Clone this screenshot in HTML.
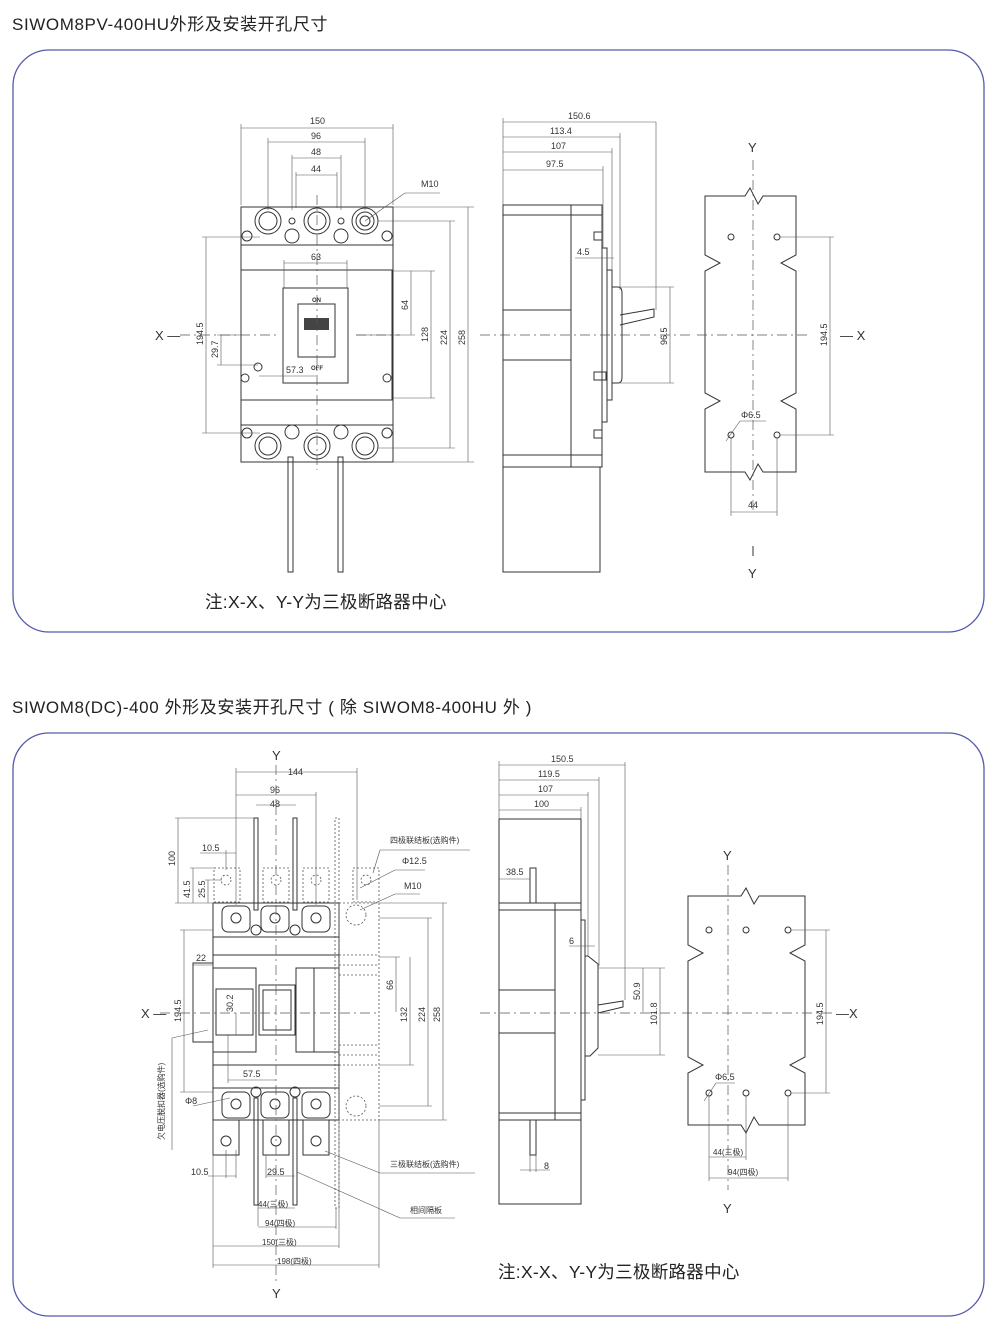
<!DOCTYPE html>
<html><head><meta charset="utf-8"><style>
body{margin:0;background:#fff}
svg{display:block}
text{font-family:"Liberation Sans","Noto Sans CJK SC",sans-serif;fill:#333}
.s{stroke:#333;stroke-width:1;fill:none}
.w{stroke:#333;stroke-width:1;fill:#fff}
.d{stroke:#555;stroke-width:.6;fill:none}
.c{stroke:#555;stroke-width:.7;fill:none;stroke-dasharray:10 4 2 4}
.k{stroke:#555;stroke-width:.8;fill:none;stroke-dasharray:2 2}
.t{font-size:9px}
.h{font-size:17px;fill:#222;letter-spacing:.6px}
.n{font-size:17.5px;fill:#222;letter-spacing:.3px}
</style></head><body>
<svg width="1000" height="1332" viewBox="0 0 1000 1332" xmlns="http://www.w3.org/2000/svg">
<text x="12" y="30" class="h">SIWOM8PV-400HU外形及安装开孔尺寸</text>
<rect x="13" y="50" width="971" height="582" rx="36" fill="none" stroke="#565aa8" stroke-width="1.3"/>
<text x="12" y="713" class="h">SIWOM8(DC)-400 外形及安装开孔尺寸 ( 除 SIWOM8-400HU 外 )</text>
<rect x="13" y="733" width="971" height="583" rx="36" fill="none" stroke="#565aa8" stroke-width="1.3"/>

<!-- ===== Panel 1 front ===== -->
<g>
<rect x="241" y="207" width="152" height="255" class="s"/>
<line x1="241" y1="245" x2="393" y2="245" class="s"/>
<line x1="241" y1="425" x2="393" y2="425" class="s"/>
<rect x="241" y="270" width="151" height="130" class="s"/>
<rect x="283" y="288" width="65" height="95" class="s"/>
<rect x="298" y="304" width="37" height="53" class="s"/>
<rect x="304" y="318" width="25" height="12" fill="#444"/>
<g class="s">
<circle cx="268" cy="221" r="13"/><circle cx="268" cy="221" r="9"/>
<circle cx="317" cy="221" r="13"/><circle cx="317" cy="221" r="9"/>
<circle cx="365" cy="221" r="13"/><circle cx="365" cy="221" r="9"/><circle cx="365" cy="221" r="5"/>
<circle cx="292" cy="221" r="3"/><circle cx="341" cy="221" r="3"/>
<circle cx="292" cy="236" r="7"/><circle cx="341" cy="236" r="7"/>
<circle cx="247" cy="236" r="5"/><circle cx="387" cy="236" r="5"/>
<circle cx="268" cy="446" r="13"/><circle cx="268" cy="446" r="9"/>
<circle cx="317" cy="446" r="13"/><circle cx="317" cy="446" r="9"/>
<circle cx="365" cy="446" r="13"/><circle cx="365" cy="446" r="9"/>
<circle cx="292" cy="432" r="7"/><circle cx="341" cy="432" r="7"/>
<circle cx="247" cy="433" r="5"/><circle cx="387" cy="433" r="5"/>
<circle cx="245" cy="378" r="4"/><circle cx="387" cy="378" r="4"/>
<circle cx="258" cy="367" r="4"/>
<rect x="288" y="457" width="5" height="115"/><rect x="338" y="457" width="5" height="115"/>
</g>
<text x="312" y="302" class="t" style="font-size:6px;font-weight:bold">ON</text>
<text x="311" y="370" class="t" style="font-size:6px;font-weight:bold">OFF</text>
<line x1="317" y1="195" x2="317" y2="470" class="c"/>
<line x1="180" y1="335" x2="280" y2="335" class="c"/>
<line x1="356" y1="335" x2="400" y2="335" class="c"/>
<text x="155" y="340" style="font-size:13px">X —</text>
<g class="d">
<line x1="241" y1="205" x2="241" y2="124"/><line x1="393" y1="205" x2="393" y2="124"/><line x1="241" y1="128" x2="393" y2="128"/>
<line x1="268" y1="210" x2="268" y2="138"/><line x1="365" y1="210" x2="365" y2="138"/><line x1="268" y1="142" x2="365" y2="142"/>
<line x1="292" y1="210" x2="292" y2="155"/><line x1="341" y1="210" x2="341" y2="155"/><line x1="292" y1="158" x2="341" y2="158"/>
<line x1="296" y1="175" x2="337" y2="175"/><line x1="296" y1="172" x2="296" y2="208"/><line x1="337" y1="172" x2="337" y2="208"/>
<line x1="393" y1="207" x2="474" y2="207"/><line x1="393" y1="462" x2="474" y2="462"/><line x1="468" y1="207" x2="468" y2="462"/>
<line x1="378" y1="221" x2="455" y2="221"/><line x1="378" y1="448" x2="455" y2="448"/><line x1="450" y1="221" x2="450" y2="448"/>
<line x1="393" y1="271" x2="435" y2="271"/><line x1="393" y1="398" x2="435" y2="398"/><line x1="431" y1="271" x2="431" y2="398"/>
<line x1="356" y1="335" x2="415" y2="335"/><line x1="411" y1="271" x2="411" y2="335"/>
<line x1="284" y1="263" x2="347" y2="263"/><line x1="284" y1="260" x2="284" y2="288"/><line x1="347" y1="260" x2="347" y2="288"/>
<line x1="202" y1="237" x2="260" y2="237"/><line x1="202" y1="433" x2="260" y2="433"/><line x1="206" y1="237" x2="206" y2="433"/>
<line x1="217" y1="335" x2="240" y2="335"/><line x1="217" y1="365" x2="258" y2="365"/><line x1="221" y1="335" x2="221" y2="365"/>
<line x1="259" y1="376" x2="316" y2="376"/>
<line x1="365" y1="221" x2="405" y2="193"/><line x1="405" y1="193" x2="440" y2="193"/>
</g>
<text x="310" y="124" class="t">150</text><text x="311" y="139" class="t">96</text><text x="311" y="155" class="t">48</text><text x="311" y="172" class="t">44</text>
<text x="421" y="187" class="t">M10</text><text x="311" y="260" class="t">63</text><text x="286" y="373" class="t">57.3</text>
<text transform="translate(465,345) rotate(-90)" class="t">258</text>
<text transform="translate(447,345) rotate(-90)" class="t">224</text>
<text transform="translate(428,342) rotate(-90)" class="t">128</text>
<text transform="translate(408,310) rotate(-90)" class="t">64</text>
<text transform="translate(203,345) rotate(-90)" class="t">194.5</text>
<text transform="translate(218,358) rotate(-90)" class="t">29.7</text>
</g>

<!-- Panel 1 side -->
<g>
<rect x="503" y="205" width="99" height="262" class="s"/>
<line x1="503" y1="215" x2="602" y2="215" class="s"/><line x1="503" y1="455" x2="602" y2="455" class="s"/>
<line x1="571" y1="205" x2="571" y2="467" class="s"/>
<line x1="503" y1="310" x2="571" y2="310" class="s"/><line x1="503" y1="360" x2="571" y2="360" class="s"/>
<rect x="503" y="467" width="97" height="105" class="s"/>
<path d="M602 248 h5 v174 h-5" class="s"/>
<rect x="607" y="270" width="5" height="130" class="s"/>
<path d="M612 287 h6 q4 0 4 6 v84 q0 6 -4 6 h-6" class="s"/>
<path d="M620 315 l34 -6 v8 l-34 8" class="s"/>
<rect x="594" y="232" width="8" height="8" class="s"/><rect x="594" y="372" width="12" height="8" class="s"/><rect x="594" y="430" width="8" height="8" class="s"/>
<line x1="480" y1="335" x2="690" y2="335" class="c"/>
<g class="d">
<line x1="503" y1="205" x2="503" y2="118"/>
<line x1="656" y1="122" x2="656" y2="310"/><line x1="503" y1="122" x2="656" y2="122"/>
<line x1="620" y1="133" x2="620" y2="290"/><line x1="503" y1="137" x2="620" y2="137"/>
<line x1="612" y1="148" x2="612" y2="270"/><line x1="503" y1="152" x2="612" y2="152"/>
<line x1="603" y1="166" x2="603" y2="248"/><line x1="503" y1="170" x2="603" y2="170"/>
<line x1="575" y1="258" x2="614" y2="258"/>
<line x1="620" y1="287" x2="674" y2="287"/><line x1="620" y1="383" x2="674" y2="383"/><line x1="670" y1="287" x2="670" y2="383"/>
</g>
<text x="568" y="119" class="t">150.6</text><text x="550" y="134" class="t">113.4</text><text x="551" y="149" class="t">107</text><text x="546" y="167" class="t">97.5</text>
<text x="577" y="255" class="t">4.5</text>
<text transform="translate(667,345) rotate(-90)" class="t">96.5</text>
</g>

<!-- Panel 1 mount -->
<g>
<path d="M705 196 H745 l5 -8 l8 16 l5 -8 H796 V255 l-15 8 l15 8 V393 l-15 8 l15 8 V472 H763 l-5 -8 l-8 16 l-5 -8 H705 V409 l15 -8 l-15 -8 V271 l15 -8 l-15 -8 Z" class="s"/>
<circle cx="731" cy="237" r="3" class="s"/><circle cx="777" cy="237" r="3" class="s"/>
<circle cx="731" cy="435" r="3" class="s"/><circle cx="777" cy="435" r="3" class="s"/>
<line x1="753" y1="160" x2="753" y2="510" class="c"/><line x1="697" y1="335" x2="810" y2="335" class="c"/>
<line x1="753" y1="546" x2="753" y2="556" class="s"/>
<text x="748" y="152" style="font-size:13px">Y</text><text x="748" y="578" style="font-size:13px">Y</text>
<text x="840" y="340" style="font-size:13px">— X</text>
<g class="d">
<line x1="780" y1="237" x2="834" y2="237"/><line x1="780" y1="435" x2="834" y2="435"/><line x1="830" y1="237" x2="830" y2="435"/>
<line x1="731" y1="438" x2="731" y2="516"/><line x1="777" y1="438" x2="777" y2="516"/><line x1="731" y1="512" x2="777" y2="512"/>
<line x1="726" y1="441" x2="740" y2="421"/><line x1="740" y1="421" x2="766" y2="421"/>
</g>
<text transform="translate(827,346) rotate(-90)" class="t">194.5</text>
<text x="748" y="508" class="t">44</text><text x="741" y="418" class="t">Φ6.5</text>
</g>
<text x="205" y="608" class="n">注:X-X、Y-Y为三极断路器中心</text>

<!-- ===== Panel 2 front ===== -->
<g>
<rect x="213" y="903" width="126" height="217" class="s"/>
<line x1="213" y1="937" x2="339" y2="937" class="s"/>
<line x1="213" y1="955" x2="339" y2="955" class="s"/>
<line x1="213" y1="1065" x2="339" y2="1065" class="s"/>
<line x1="213" y1="1088" x2="339" y2="1088" class="s"/>
<path d="M213 968 H256 V1052 H213" class="s"/>
<path d="M339 968 H296 V1052 H339" class="s"/><line x1="314" y1="968" x2="314" y2="1052" class="s"/>
<rect x="193" y="963" width="20" height="79" class="s"/>
<rect x="216" y="989" width="37" height="46" class="s"/>
<rect x="259" y="985" width="36" height="50" class="s"/><rect x="263" y="990" width="28" height="40" class="s"/>
<g class="s">
<rect x="222" y="906" width="28" height="26" rx="6"/><circle cx="236" cy="918" r="5"/>
<rect x="261" y="906" width="28" height="26" rx="6"/><circle cx="275" cy="918" r="5"/>
<rect x="302" y="906" width="28" height="26" rx="6"/><circle cx="316" cy="918" r="5"/>
<rect x="222" y="1092" width="28" height="26" rx="6"/><circle cx="236" cy="1104" r="5"/>
<rect x="261" y="1092" width="28" height="26" rx="6"/><circle cx="275" cy="1104" r="5"/>
<rect x="302" y="1092" width="28" height="26" rx="6"/><circle cx="316" cy="1104" r="5"/>
<circle cx="256" cy="930" r="5"/><circle cx="295" cy="930" r="5"/>
<circle cx="256" cy="1092" r="5"/><circle cx="295" cy="1092" r="5"/>
<path d="M213 1120 v35 h26 v-35"/><circle cx="226" cy="1141" r="5"/>
<path d="M263 1120 v35 h26 v-35"/><circle cx="276" cy="1141" r="5"/>
<path d="M303 1120 v35 h26 v-35"/><circle cx="316" cy="1141" r="5"/>
<rect x="254" y="818" width="4" height="92"/><rect x="293" y="818" width="4" height="92"/>
<rect x="254" y="1098" width="4" height="107"/><rect x="293" y="1098" width="4" height="107"/>
</g>
<g class="k">
<rect x="214" y="868" width="26" height="34"/><circle cx="226" cy="880" r="5"/>
<rect x="263" y="868" width="26" height="34"/><circle cx="276" cy="880" r="5"/>
<rect x="303" y="868" width="26" height="34"/><circle cx="316" cy="880" r="5"/>
<rect x="353" y="868" width="26" height="34"/><circle cx="366" cy="880" r="5"/>
<rect x="335" y="818" width="4" height="390"/>
<rect x="339" y="903" width="40" height="217"/>
<circle cx="356" cy="915" r="10"/><circle cx="356" cy="1106" r="10"/>
<line x1="339" y1="955" x2="379" y2="955"/><line x1="339" y1="965" x2="379" y2="965"/><line x1="339" y1="975" x2="379" y2="975"/>
<line x1="339" y1="1045" x2="379" y2="1045"/><line x1="339" y1="1055" x2="379" y2="1055"/><line x1="339" y1="1065" x2="379" y2="1065"/>
</g>
<line x1="276" y1="765" x2="276" y2="1285" class="c"/>
<line x1="160" y1="1013" x2="380" y2="1013" class="c"/>
<text x="141" y="1018" style="font-size:13px">X —</text>
<text x="272" y="760" style="font-size:13px">Y</text><text x="272" y="1298" style="font-size:13px">Y</text>
<g class="d">
<line x1="236" y1="772" x2="357" y2="772"/><line x1="236" y1="768" x2="236" y2="905"/><line x1="357" y1="768" x2="357" y2="900"/>
<line x1="236" y1="795" x2="316" y2="795"/><line x1="316" y1="792" x2="316" y2="905"/>
<line x1="256" y1="805" x2="296" y2="805"/>
<line x1="175" y1="818" x2="255" y2="818"/><line x1="178" y1="818" x2="178" y2="903"/><line x1="175" y1="903" x2="215" y2="903"/>
<line x1="190" y1="868" x2="215" y2="868"/><line x1="193" y1="868" x2="193" y2="903"/>
<line x1="205" y1="880" x2="222" y2="880"/><line x1="208" y1="880" x2="208" y2="903"/>
<line x1="200" y1="853" x2="236" y2="853"/><line x1="226" y1="850" x2="226" y2="870"/>
<line x1="180" y1="930" x2="213" y2="930"/><line x1="180" y1="1092" x2="213" y2="1092"/><line x1="184" y1="930" x2="184" y2="1092"/>
<line x1="193" y1="965" x2="213" y2="965"/>
<line x1="228" y1="1080" x2="276" y2="1080"/><line x1="228" y1="1035" x2="228" y2="1083"/>
<line x1="236" y1="1013" x2="236" y2="1035"/>
<line x1="379" y1="957" x2="400" y2="957"/><line x1="396" y1="957" x2="396" y2="1012"/>
<line x1="379" y1="1065" x2="414" y2="1065"/><line x1="410" y1="957" x2="410" y2="1065"/>
<line x1="379" y1="918" x2="432" y2="918"/><line x1="379" y1="1106" x2="432" y2="1106"/><line x1="428" y1="918" x2="428" y2="1106"/>
<line x1="379" y1="903" x2="447" y2="903"/><line x1="379" y1="1120" x2="447" y2="1120"/><line x1="443" y1="903" x2="443" y2="1120"/>
<line x1="226" y1="1150" x2="226" y2="1178"/><line x1="236" y1="1150" x2="236" y2="1178"/><line x1="208" y1="1176" x2="236" y2="1176"/>
<line x1="266" y1="1176" x2="295" y2="1176"/><line x1="266" y1="1155" x2="266" y2="1178"/>
<line x1="258" y1="1205" x2="258" y2="1226"/><line x1="258" y1="1208" x2="295" y2="1208"/>
<line x1="258" y1="1227" x2="336" y2="1227"/><line x1="336" y1="1208" x2="336" y2="1229"/>
<line x1="213" y1="1120" x2="213" y2="1268"/><line x1="339" y1="1120" x2="339" y2="1248"/><line x1="379" y1="1120" x2="379" y2="1268"/>
<line x1="213" y1="1246" x2="339" y2="1246"/><line x1="213" y1="1265" x2="379" y2="1265"/>
<line x1="373" y1="873" x2="380" y2="850"/><line x1="380" y1="850" x2="470" y2="850"/>
<line x1="360" y1="888" x2="395" y2="870"/><line x1="395" y1="870" x2="425" y2="870"/>
<line x1="360" y1="910" x2="395" y2="894"/><line x1="395" y1="894" x2="420" y2="894"/>
<line x1="325" y1="1151" x2="380" y2="1173"/><line x1="380" y1="1173" x2="475" y2="1173"/>
<line x1="297" y1="1172" x2="400" y2="1218"/><line x1="400" y1="1218" x2="455" y2="1218"/>
<line x1="208" y1="1030" x2="172" y2="1038"/><line x1="172" y1="1038" x2="172" y2="1150"/>
<line x1="193" y1="1106" x2="230" y2="1098"/>
</g>
<text x="288" y="775" class="t">144</text><text x="270" y="793" class="t">96</text><text x="270" y="807" class="t">48</text>
<text x="202" y="851" class="t">10.5</text><text x="196" y="961" class="t">22</text><text x="243" y="1077" class="t">57.5</text>
<text x="390" y="843" style="font-size:8px">四极联结板(选购件)</text>
<text x="402" y="864" class="t">Φ12.5</text><text x="404" y="889" class="t">M10</text>
<text x="390" y="1167" style="font-size:8px">三极联结板(选购件)</text>
<text x="410" y="1213" style="font-size:8px">相间隔板</text>
<text x="185" y="1104" class="t">Φ8</text>
<text x="191" y="1175" class="t">10.5</text><text x="267" y="1175" class="t">29.5</text>
<text x="258" y="1207" style="font-size:8px">44(三极)</text><text x="265" y="1226" style="font-size:8px">94(四极)</text>
<text x="262" y="1245" style="font-size:8px">150(三极)</text><text x="277" y="1264" style="font-size:8px">198(四极)</text>
<text transform="translate(175,866) rotate(-90)" class="t">100</text>
<text transform="translate(190,898) rotate(-90)" class="t">41.5</text>
<text transform="translate(205,898) rotate(-90)" class="t">25.5</text>
<text transform="translate(181,1022) rotate(-90)" class="t">194.5</text>
<text transform="translate(233,1012) rotate(-90)" class="t">30.2</text>
<text transform="translate(393,990) rotate(-90)" class="t">66</text>
<text transform="translate(407,1022) rotate(-90)" class="t">132</text>
<text transform="translate(425,1022) rotate(-90)" class="t">224</text>
<text transform="translate(440,1022) rotate(-90)" class="t">258</text>
<text transform="translate(164,1140) rotate(-90)" style="font-size:8px">欠电压脱扣器(选购件)</text>
</g>

<!-- Panel 2 side -->
<g>
<rect x="499" y="819" width="82" height="84" class="s"/>
<rect x="499" y="903" width="82" height="217" class="s"/>
<line x1="499" y1="910" x2="581" y2="910" class="s"/><line x1="499" y1="1113" x2="581" y2="1113" class="s"/>
<line x1="555" y1="903" x2="555" y2="1120" class="s"/>
<line x1="499" y1="990" x2="555" y2="990" class="s"/><line x1="499" y1="1033" x2="555" y2="1033" class="s"/>
<rect x="499" y="1120" width="82" height="84" class="s"/>
<rect x="530" y="868" width="6" height="35" class="s"/><rect x="530" y="1120" width="6" height="35" class="s"/>
<path d="M581 920 h4 v180 h-4" class="s"/>
<path d="M585 956 h3 l10 8 v84 l-8 8 h-5" class="s"/>
<path d="M598 1005 l25 -4 v6 l-25 6" class="s"/>
<line x1="480" y1="1013" x2="680" y2="1013" class="c"/>
<g class="d">
<line x1="499" y1="819" x2="499" y2="761"/>
<line x1="625" y1="762" x2="625" y2="1000"/><line x1="499" y1="765" x2="625" y2="765"/>
<line x1="599" y1="777" x2="599" y2="966"/><line x1="499" y1="780" x2="599" y2="780"/>
<line x1="588" y1="792" x2="588" y2="956"/><line x1="499" y1="795" x2="588" y2="795"/>
<line x1="581" y1="807" x2="581" y2="819"/><line x1="499" y1="810" x2="581" y2="810"/>
<line x1="499" y1="879" x2="530" y2="879"/>
<line x1="569" y1="946" x2="595" y2="946"/>
<line x1="598" y1="968" x2="665" y2="968"/><line x1="598" y1="1055" x2="665" y2="1055"/>
<line x1="643" y1="968" x2="643" y2="1012"/><line x1="660" y1="968" x2="660" y2="1055"/>
<line x1="530" y1="1155" x2="530" y2="1172"/><line x1="536" y1="1155" x2="536" y2="1172"/><line x1="520" y1="1170" x2="550" y2="1170"/>
</g>
<text x="551" y="762" class="t">150.5</text><text x="538" y="777" class="t">119.5</text><text x="538" y="792" class="t">107</text><text x="534" y="807" class="t">100</text>
<text x="506" y="875" class="t">38.5</text><text x="569" y="944" class="t">6</text><text x="544" y="1169" class="t">8</text>
<text transform="translate(640,1000) rotate(-90)" class="t">50.9</text>
<text transform="translate(657,1025) rotate(-90)" class="t">101.8</text>
</g>

<!-- Panel 2 mount -->
<g>
<path d="M688 896 H741 l5 -8 l8 16 l5 -8 H805 V945 l-15 8 l15 8 V1057 l-15 8 l15 8 V1125 H759 l-5 -8 l-8 16 l-5 -8 H688 V1073 l15 -8 l-15 -8 V961 l15 -8 l-15 -8 Z" class="s"/>
<circle cx="709" cy="930" r="3" class="s"/><circle cx="746" cy="930" r="3" class="s"/><circle cx="788" cy="930" r="3" class="s"/>
<circle cx="709" cy="1093" r="3" class="s"/><circle cx="746" cy="1093" r="3" class="s"/><circle cx="788" cy="1093" r="3" class="s"/>
<line x1="728" y1="865" x2="728" y2="1190" class="c"/><line x1="682" y1="1013" x2="835" y2="1013" class="c"/>
<text x="723" y="860" style="font-size:13px">Y</text><text x="723" y="1213" style="font-size:13px">Y</text>
<text x="836" y="1018" style="font-size:13px">—X</text>
<g class="d">
<line x1="791" y1="930" x2="830" y2="930"/><line x1="791" y1="1093" x2="830" y2="1093"/><line x1="826" y1="930" x2="826" y2="1093"/>
<line x1="709" y1="1096" x2="709" y2="1181"/><line x1="746" y1="1096" x2="746" y2="1160"/><line x1="788" y1="1096" x2="788" y2="1181"/>
<line x1="709" y1="1157" x2="746" y2="1157"/><line x1="709" y1="1178" x2="788" y2="1178"/>
<line x1="704" y1="1101" x2="716" y2="1083"/><line x1="716" y1="1083" x2="735" y2="1083"/>
</g>
<text transform="translate(823,1025) rotate(-90)" class="t">194.5</text>
<text x="713" y="1155" style="font-size:8px">44(三极)</text><text x="728" y="1175" style="font-size:8px">94(四极)</text>
<text x="715" y="1080" class="t">Φ6.5</text>
</g>
<text x="498" y="1278" class="n">注:X-X、Y-Y为三极断路器中心</text>
</svg>
</body></html>
